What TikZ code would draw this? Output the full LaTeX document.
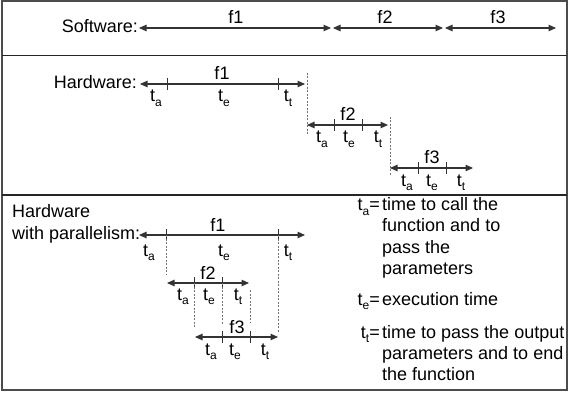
\documentclass[tikz,border=0pt]{standalone}
\usepackage{fontspec}
\setmainfont{Liberation Sans}
\usetikzlibrary{arrows.meta}
\newcommand{\tl}[1]{t\raisebox{-4.5pt}{\fontsize{12}{12}\selectfont #1}}
\begin{document}
\begin{tikzpicture}[x=1pt,y=-1pt, font=\fontsize{18}{20}\selectfont,
 tline/.style={{Triangle[length=7.5pt,width=6.5pt]}-{Triangle[length=7.5pt,width=6.5pt]}, line width=1.1pt, draw=black!80},
 tickmark/.style={line width=0.9pt, draw=black!80},
 dashv/.style={line width=0.8pt, draw=black!55, dash pattern=on 2pt off 1.5pt},
 lab/.style={anchor=base, inner sep=0pt},
 txt/.style={anchor=base west, inner sep=0pt},
 rtxt/.style={anchor=base east, inner sep=0pt}]
\useasboundingbox (0,0) rectangle (568,393);
% frame
\draw[line width=1.5pt, draw=black!70] (2,1) rectangle (567,390);
\coordinate (sepAl) at (2,55.5); \coordinate (sepAr) at (567,55.5);
\coordinate (sepBl) at (2,195); \coordinate (sepBr) at (567,195);
\draw[line width=1.5pt, draw=black!85] (sepAl) -- (sepAr);
\draw[line width=1.5pt, draw=black!85] (sepBl) -- (sepBr);

% ---------- Software ----------
\node[rtxt] (swlab) at (138,33) {Software:};
\coordinate (s0) at (139,28); \coordinate (s1a) at (331,28); \coordinate (s1b) at (333,28);
\coordinate (s2a) at (443,28); \coordinate (s2b) at (445,28); \coordinate (s3) at (556,28);
\draw[tline] (s0) -- (s1a);
\draw[tline] (s1b) -- (s2a);
\draw[tline] (s2b) -- (s3);
\node[lab] (sf1) at (236,24) {f1};
\node[lab] (sf2) at (385,24) {f2};
\node[lab] (sf3) at (498,24) {f3};

% ---------- Hardware ----------
\node[rtxt] (hwlab) at (137,89) {Hardware:};
% f1
\coordinate (h1s) at (140,84); \coordinate (h1e) at (305,84);
\coordinate (h1a) at (167,84); \coordinate (h1b) at (278,84);
\draw[tline] (h1s) -- (h1e);
\draw[tickmark] ([yshift=6pt]h1a) -- ([yshift=-6pt]h1a);
\draw[tickmark] ([yshift=6pt]h1b) -- ([yshift=-6pt]h1b);
\node[lab] (hf1) at (222,80) {f1};
\node[lab] (h1ta) at (156,102) {\tl{a}};
\node[lab] (h1te) at (224,102) {\tl{e}};
\node[lab] (h1tt) at (288,102) {\tl{t}};
\coordinate (hd1t) at (307,73); \coordinate (hd1b) at (307,135);
\draw[dashv] (hd1t) -- (hd1b);
% f2
\coordinate (h2s) at (307,125); \coordinate (h2e) at (388,125);
\coordinate (h2a) at (334,125); \coordinate (h2b) at (362,125);
\draw[tline] (h2s) -- (h2e);
\draw[tickmark] ([yshift=6pt]h2a) -- ([yshift=-6pt]h2a);
\draw[tickmark] ([yshift=6pt]h2b) -- ([yshift=-6pt]h2b);
\node[lab] (hf2) at (348,121) {f2};
\node[lab] (h2ta) at (322,143) {\tl{a}};
\node[lab] (h2te) at (349,143) {\tl{e}};
\node[lab] (h2tt) at (378,143) {\tl{t}};
\coordinate (hd2t) at (390,117); \coordinate (hd2b) at (390,175);
\draw[dashv] (hd2t) -- (hd2b);
% f3
\coordinate (h3s) at (390,168); \coordinate (h3e) at (473,168);
\coordinate (h3a) at (418,168); \coordinate (h3b) at (446,168);
\draw[tline] (h3s) -- (h3e);
\draw[tickmark] ([yshift=6pt]h3a) -- ([yshift=-6pt]h3a);
\draw[tickmark] ([yshift=6pt]h3b) -- ([yshift=-6pt]h3b);
\node[lab] (hf3) at (432,164) {f3};
\node[lab] (h3ta) at (407,186) {\tl{a}};
\node[lab] (h3te) at (432,186) {\tl{e}};
\node[lab] (h3tt) at (461,186) {\tl{t}};

% ---------- Hardware with parallelism ----------
\node[txt] (pl1) at (12,218) {Hardware};
\node[txt] (pl2) at (12,240) {with parallelism:};
% f1
\coordinate (p1s) at (139,235); \coordinate (p1e) at (305,235);
\coordinate (p1a) at (166,235); \coordinate (p1b) at (278,235);
\draw[tline] (p1s) -- (p1e);
\draw[tickmark] ([yshift=6pt]p1a) -- ([yshift=-6pt]p1a);
\draw[tickmark] ([yshift=6pt]p1b) -- ([yshift=-6pt]p1b);
\coordinate (pd1b) at (166,274); \coordinate (pd2b) at (278,332);
\draw[dashv] (p1a) -- (pd1b);
\draw[dashv] (p1b) -- (pd2b);
\node[lab] (pf1) at (218,231) {f1};
\node[lab] (p1ta) at (149,256) {\tl{a}};
\node[lab] (p1te) at (224,256) {\tl{e}};
\node[lab] (p1tt) at (288,256) {\tl{t}};
% f2
\coordinate (p2s) at (167,283); \coordinate (p2e) at (249,283);
\coordinate (p2a) at (194,283); \coordinate (p2b) at (222,283);
\draw[tline] (p2s) -- (p2e);
\draw[tickmark] ([yshift=6pt]p2a) -- ([yshift=-6pt]p2a);
\draw[tickmark] ([yshift=6pt]p2b) -- ([yshift=-6pt]p2b);
\coordinate (pd3b) at (194,328); \coordinate (pd4b) at (222,325);
\coordinate (pd5t) at (250,290); \coordinate (pd5b) at (250,323);
\draw[dashv] (p2a) -- (pd3b);
\draw[dashv] (p2b) -- (pd4b);
\draw[dashv] (pd5t) -- (pd5b);
\node[lab] (pf2) at (208,279) {f2};
\node[lab] (p2ta) at (183,300) {\tl{a}};
\node[lab] (p2te) at (209,300) {\tl{e}};
\node[lab] (p2tt) at (238,300) {\tl{t}};
% f3
\coordinate (p3s) at (195,337); \coordinate (p3e) at (278,337);
\coordinate (p3a) at (222,337); \coordinate (p3b) at (250,337);
\draw[tline] (p3s) -- (p3e);
\draw[tickmark] ([yshift=6pt]p3a) -- ([yshift=-6pt]p3a);
\draw[tickmark] ([yshift=6pt]p3b) -- ([yshift=-6pt]p3b);
\node[lab] (pf3) at (237,333) {f3};
\node[lab] (p3ta) at (211,355) {\tl{a}};
\node[lab] (p3te) at (235,355) {\tl{e}};
\node[lab] (p3tt) at (265,355) {\tl{t}};

% ---------- Legend ----------
\node[rtxt] (lga) at (380,211) {\tl{a}=};
\node[txt] (lga1) at (382,211) {time to call the};
\node[txt] (lga2) at (382,232) {function and to};
\node[txt] (lga3) at (382,253) {pass the};
\node[txt] (lga4) at (382,274) {parameters};
\node[rtxt] (lge) at (380,305) {\tl{e}=};
\node[txt] (lge1) at (382,305) {execution time};
\node[rtxt] (lgt) at (380,338) {\tl{t}=};
\node[txt] (lgt1) at (382,338) {time to pass the output};
\node[txt] (lgt2) at (382,359) {parameters and to end};
\node[txt] (lgt3) at (382,380) {the function};
\end{tikzpicture}
\end{document}
